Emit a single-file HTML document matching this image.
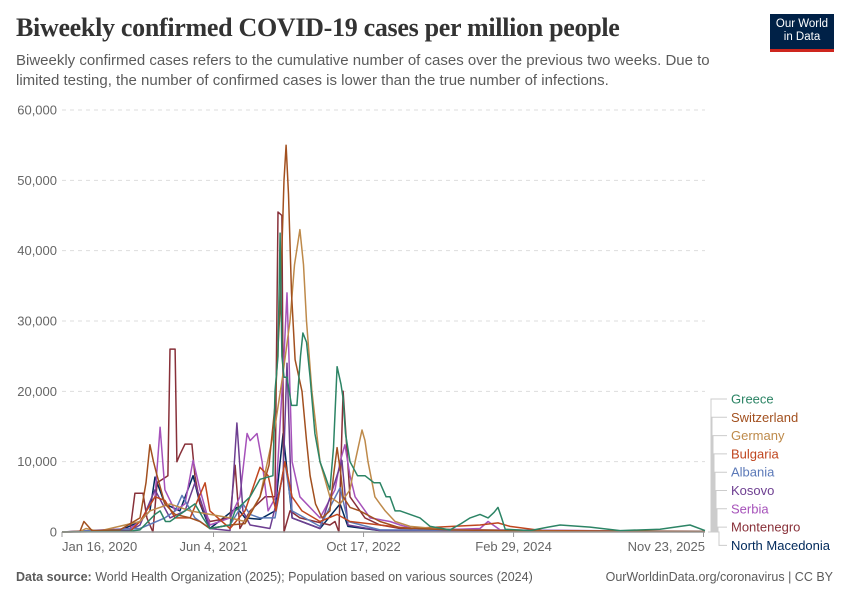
<!DOCTYPE html>
<html><head><meta charset="utf-8">
<style>
body{margin:0;background:#fff;font-family:"Liberation Sans",sans-serif;}
#wrap{position:relative;width:850px;height:600px;overflow:hidden;}
.t{position:absolute;white-space:nowrap;}
</style></head>
<body>
<div id="wrap">
<div class="t" style="left:16px;top:13px;font-family:'Liberation Serif',serif;font-size:26px;font-weight:bold;color:#333;letter-spacing:-0.3px">Biweekly confirmed COVID-19 cases per million people</div>
<div class="t" style="left:16px;top:51px;font-size:15px;line-height:19.5px;color:#5b5b5b">Biweekly confirmed cases refers to the cumulative number of cases over the previous two weeks. Due to<br>limited testing, the number of confirmed cases is lower than the true number of infections.</div>
<div style="position:absolute;left:770px;top:14px;width:64px;background:#002147;border-bottom:3px solid #ce261e;color:#fff;font-size:11.5px;line-height:13px;text-align:center;padding-top:4px;height:31px">Our World<br>in Data</div>
<svg id="chart" width="850" height="600" style="position:absolute;left:0;top:0"></svg>
<div class="t" style="left:16px;top:570px;font-size:12.5px;color:#5b5b5b"><b>Data source:</b> World Health Organization (2025); Population based on various sources (2024)</div>
<div class="t" style="right:17px;top:570px;font-size:12.5px;color:#5b5b5b">OurWorldinData.org/coronavirus | CC BY</div>
</div>
<script>
// days since Jan 16, 2020 ; values = cases per million
const yTicks=[0,10000,20000,30000,40000,50000,60000];
const xTickDays=[0,505,1005,1505,2138];
const xTickLabels=["Jan 16, 2020","Jun 4, 2021","Oct 17, 2022","Feb 29, 2024","Nov 23, 2025"];
const names=["Greece","Switzerland","Germany","Bulgaria","Albania","Kosovo","Serbia","Montenegro","North Macedonia"];
const colors=["#2c8465","#a2501f","#be8a4a","#c0461f","#5b79b8","#6d3e91","#a652ba","#883039","#00295b"];
const greece=[[0,0],[227,100],[260,300],[310,2500],[327,3000],[345,1500],[360,1500],[410,3000],[443,4000],[470,2000],[493,500],[560,1000],[577,3000],[627,5000],[660,7500],[703,8000],[710,20000],[720,25000],[727,42500],[733,25000],[740,22000],[750,22000],[765,18000],[783,18000],[795,25000],[803,28300],[815,27000],[827,22000],[843,14000],[860,10000],[877,8000],[893,6000],[905,12000],[917,23500],[930,21000],[937,19000],[945,14000],[960,10000],[985,8000],[1010,8000],[1040,7000],[1060,7000],[1080,5000],[1093,5000],[1110,3000],[1127,3000],[1193,2000],[1227,800],[1293,300],[1330,1200],[1360,2000],[1393,2500],[1420,2000],[1440,2800],[1453,3500],[1465,2000],[1477,400],[1560,200],[1620,700],[1660,1000],[1760,700],[1860,200],[1993,400],[2093,1000],[2143,200]];
const switzerland=[[0,0],[60,100],[73,1500],[100,200],[193,300],[260,2000],[280,7000],[293,12400],[305,10000],[317,8000],[343,4000],[377,2500],[427,2000],[460,1500],[493,500],[560,1000],[610,1200],[660,5000],[690,9500],[710,18000],[727,32000],[740,50000],[747,55000],[755,48000],[765,34000],[777,24500],[800,20000],[815,13000],[827,8000],[845,4000],[867,2000],[893,3000],[905,8000],[917,12000],[930,8000],[937,5000],[960,3500],[993,3000],[1060,1500],[1127,600],[1293,300],[1600,100],[2143,50]];
const germany=[[0,0],[60,50],[80,500],[120,100],[260,1500],[293,3000],[360,4000],[427,3000],[560,2000],[610,1500],[660,5000],[710,15000],[735,22000],[760,30000],[775,38000],[793,43000],[805,38000],[815,30000],[833,20000],[860,10000],[893,5000],[927,4000],[960,6000],[977,10000],[1000,14500],[1010,13000],[1020,10000],[1043,5000],[1060,4000],[1077,3000],[1110,1500],[1160,800],[1293,300],[1700,100],[2143,50]];
const bulgaria=[[0,0],[227,100],[260,1500],[310,5000],[343,4500],[377,2000],[427,2000],[477,7000],[493,3000],[560,500],[610,3000],[660,9200],[687,8000],[713,3000],[743,10000],[767,5000],[800,3000],[860,1500],[917,2500],[960,1500],[1060,1000],[1160,500],[1393,1000],[1453,1300],[1493,800],[1600,200],[2143,50]];
const albania=[[0,0],[260,500],[343,2000],[377,3000],[400,5200],[443,2000],[493,500],[560,1000],[603,4000],[627,2500],[660,2000],[710,2000],[743,10000],[767,3000],[860,800],[927,6300],[953,1500],[1060,300],[2143,100]];
const kosovo=[[0,0],[227,200],[260,1000],[310,6000],[360,2000],[410,3000],[443,7000],[493,500],[560,200],[583,15500],[603,3000],[627,1000],[693,500],[737,8000],[750,24000],[767,2000],[860,500],[933,10200],[953,1000],[1060,200],[2143,50]];
const serbia=[[0,0],[227,500],[260,1500],[310,5000],[327,14900],[343,6000],[377,3000],[410,4000],[437,10200],[460,6000],[493,1000],[560,2000],[593,5000],[617,14000],[627,13000],[650,14000],[667,10000],[687,3000],[713,5000],[740,25000],[750,34000],[760,20000],[767,10000],[793,5000],[860,2000],[910,6000],[927,10000],[943,12400],[960,8000],[977,5000],[1027,2000],[1093,1500],[1127,1000],[1193,200],[1393,500],[1420,1500],[1460,300],[2143,50]];
const montenegro=[[0,0],[227,200],[243,5500],[270,5500],[283,2000],[303,0],[317,7000],[353,8000],[360,26000],[377,26000],[383,10000],[393,11000],[410,12500],[433,12500],[443,8000],[460,4000],[493,1500],[560,2000],[577,9500],[593,500],[627,3000],[677,5000],[710,5000],[720,45500],[733,45000],[740,0],[760,3000],[793,2000],[893,1000],[910,1500],[923,0],[937,20000],[960,5000],[1010,2000],[1060,1000],[1127,500],[1393,300],[2143,50]];
const northMacedonia=[[0,0],[193,200],[260,1500],[293,3000],[310,7800],[343,4000],[393,3000],[437,8000],[460,4000],[493,500],[583,3500],[610,2000],[660,1800],[710,3000],[737,14000],[767,2000],[860,500],[927,4000],[953,800],[1060,200],[2143,50]];
const series=[greece,switzerland,germany,bulgaria,albania,kosovo,serbia,montenegro,northMacedonia];

const X0=62,X1=705,Y0=532,Y1=110,DMAX=2143,VMAX=60000;
const xs=d=>X0+(X1-X0)*d/DMAX;
const ys=v=>Y0-(Y0-Y1)*v/VMAX;
const NS="http://www.w3.org/2000/svg";
const svg=document.getElementById('chart');
function mk(tag,attrs,parent){const e=document.createElementNS(NS,tag);for(const k in attrs)e.setAttribute(k,attrs[k]);(parent||svg).appendChild(e);return e;}
yTicks.forEach(v=>{
  if(v>0){const g=mk('line',{x1:X0,x2:X1,y1:ys(v),y2:ys(v),stroke:'#ddd','stroke-dasharray':'4,4'});
  
  }
  const t=mk('text',{x:57,y:ys(v)+4.5,'text-anchor':'end','font-size':'13','fill':'#666','font-family':'Liberation Sans'});
  t.textContent=v.toLocaleString('en-US');
  
  
});
xTickDays.forEach((d,i)=>{
  const tk=mk('line',{x1:xs(d),x2:xs(d),y1:Y0,y2:Y0+5,stroke:'#999'});
  
  
  const anchor=i==0?'start':(i==xTickDays.length-1?'end':'middle');
  const t=mk('text',{x:i==0?X0:(i==xTickDays.length-1?X1:xs(d)),y:551,'text-anchor':anchor,'font-size':'13','fill':'#666','font-family':'Liberation Sans'});
  t.textContent=xTickLabels[i];
  
  
});
for(let s=series.length-1;s>=0;s--){
  const pts=series[s].map(p=>xs(p[0]).toFixed(1)+','+ys(p[1]).toFixed(1)).join(' ');
  const pl=mk('polyline',{points:pts,fill:'none',stroke:colors[s],'stroke-width':1.5,'stroke-linejoin':'round'});
  
  
}
const ax=mk('line',{x1:X0,x2:X1,y1:Y0,y2:Y0,stroke:'#999','stroke-width':1.5});


names.forEach((n,i)=>{
  const ly=399+i*18.3;
  const bx=711+i*1;
  const c=mk('polyline',{points:`${X1+3},${Y0} ${bx},${Y0} ${bx},${ly} ${727},${ly}`,fill:'none',stroke:'#ccc','stroke-width':1});
  
  
  const t=mk('text',{x:731,y:ly+4.5,'font-size':'13','fill':colors[i],'font-family':'Liberation Sans'});
  t.textContent=n;
  
  
});
</script>
</body></html>
